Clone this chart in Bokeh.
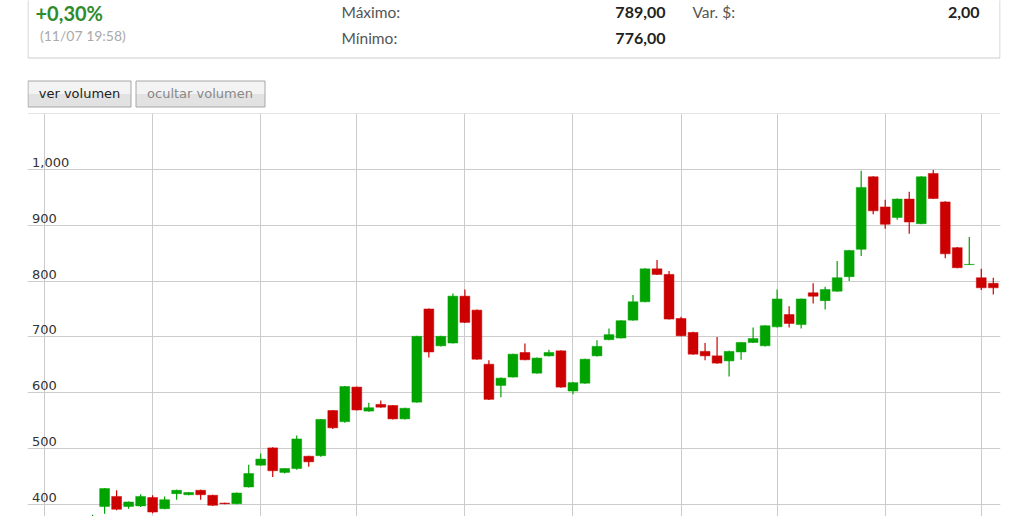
from bokeh.plotting import figure
from bokeh.models import Range1d, Grid, FixedTicker, ColumnDataSource
from bokeh.layouts import column
from bokeh.core.properties import value
from bokeh.embed import file_html
from bokeh.resources import INLINE

# ---------------- data ----------------
week = list(range(4, 80))
open_ = [372, 396, 414, 396, 397, 412, 392, 419, 417, 425, 416, 402, 401, 431, 470, 501, 457, 464,
         486, 487, 568, 548, 610, 567, 579, 577, 553, 583, 750, 684, 689, 773, 748, 651, 613, 628,
         672, 635, 666, 675, 603, 617, 666, 695, 698, 730, 763, 822, 812, 733, 708, 674, 666, 657,
         673, 690, 684, 718, 740, 722, 779, 765, 782, 808, 857, 987, 933, 914, 947, 903, 993, 942,
         860, 829.5, 806, 796]
high = [381, 429, 425, 405, 418, 416, 414, 426, 422, 426, 417, 402.5, 421, 471, 491, 502, 465, 523,
        487, 553, 569, 612, 611, 582, 586, 578, 573, 702, 751, 702, 778, 785, 749, 658, 627, 670,
        688, 663, 677, 676, 619, 661, 694, 715, 730, 775, 823, 838, 818, 736, 709, 689, 700, 675,
        691, 717, 721, 785, 755, 769, 796, 790, 836, 856, 998, 988, 946, 948, 960, 988, 999, 943,
        861, 879, 822, 806]
low = [365, 383, 389, 392, 395, 384, 391, 408, 416, 408, 397, 400, 400, 430, 469, 449, 455, 462,
       467, 485, 535, 546, 568, 566, 573, 552, 552, 582, 663, 683, 688, 725, 659, 587, 592, 627,
       658, 634, 665, 609, 597, 616, 665, 694, 697, 729, 762, 811, 731, 701, 668, 658, 652, 629,
       659, 689, 683, 717, 717, 715, 760, 749, 781, 800, 845, 920, 894, 910, 885, 902, 947, 841,
       823, 829, 784, 776]
close = [378, 428, 391, 404, 414, 386, 408, 425, 421, 417, 398, 401, 420, 455, 481, 460, 464, 517,
         476, 552, 537, 611, 569, 573, 574, 553, 572, 701, 673, 701, 773, 726, 660, 588, 626, 669,
         659, 662, 672, 610, 618, 660, 683, 704, 729, 763, 822, 812, 732, 702, 669, 666, 653, 674,
         690, 697, 720, 768, 724, 768, 773, 785, 806, 855, 968, 926, 902, 947, 906, 987, 948, 849,
         824, 830, 788, 788]

month_ticks = [0, 9, 18, 26, 35, 44, 53, 61, 70, 78]
price_ticks = [400, 500, 600, 700, 800, 900, 1000, 1100]
price_labels = ["400", "500", "600", "700", "800", "900", "1,000"]

change_pct = "+0,30%"
timestamp = "(11/07 19:58)"
stat_labels = ["Máximo:", "Mínimo:", "Var. $:"]
stat_values = ["789,00", "776,00", "2,00"]
button_labels = ["ver volumen", "ocultar volumen"]

UP = "#00a300"
DOWN = "#cc0000"

# ---------------- header (page coordinates) ----------------
top = figure(width=1024, height=113, x_range=Range1d(27, 1000), y_range=Range1d(113, 0),
             x_axis_type=None, y_axis_type=None, min_border_left=27, min_border_right=24,
             min_border_top=0, min_border_bottom=0, toolbar_location=None,
             output_backend="svg", outline_line_color=None)
top.background_fill_color = "white"
top.border_fill_color = "white"

# info panel
top.quad(left=[27.5], right=[999.5], top=[-20], bottom=[57.5],
         fill_color="white", line_color="#cccccc", line_width=1)

top.text(x=[35], y=[12.5], text=[change_pct], text_font=value("Lato"), text_font_size="20px",
         text_font_style="bold", text_color="#2e8b2e", text_baseline="alphabetic",
         text_align="left")
top.text(x=[39.5], y=[34.5], text=[timestamp], text_font=value("Lato"), text_font_size="14px",
         text_color="#aaaaaa", text_baseline="alphabetic", text_align="left")

top.text(x=[341, 341, 692], y=[11.5, 37.5, 11.5], text=stat_labels, text_font=value("Lato"),
         text_font_size="15.5px", text_color="#555555", text_baseline="alphabetic",
         text_align="left")
top.text(x=[665, 665, 979], y=[11.5, 37.5, 11.5], text=stat_values, text_font=value("Lato"),
         text_font_size="16px", text_font_style="bold", text_color="#222222",
         text_baseline="alphabetic", text_align="right")

# buttons
top.quad(left=[27.5, 135.5], right=[130.5, 264.5], top=[80.5, 80.5], bottom=[93.5, 93.5],
         fill_color="#f3f3f3", line_color=None)
top.quad(left=[27.5, 135.5], right=[130.5, 264.5], top=[93.5, 93.5], bottom=[106.5, 106.5],
         fill_color="#e2e2e2", line_color=None)
top.quad(left=[27.5, 135.5], right=[130.5, 264.5], top=[80.5, 80.5], bottom=[106.5, 106.5],
         fill_color=None, line_color="#a6a6a6", line_width=1)
top.text(x=[79, 199.5], y=[92.5, 92.5], text=button_labels, text_font=value("DejaVu Sans"),
         text_font_size="13px", text_color=["#222222", "#888888"], text_baseline="alphabetic",
         text_align="center")

# ---------------- candlestick chart ----------------
x_start, x_end = -1.42, 79.6
chart = figure(width=1024, height=403, x_range=Range1d(x_start, x_end),
               y_range=Range1d(378, 1100.5), x_axis_type=None, y_axis_type=None,
               min_border_left=27, min_border_right=24, min_border_top=0, min_border_bottom=0,
               toolbar_location=None, output_backend="svg", outline_line_color=None)
chart.background_fill_color = "white"
chart.border_fill_color = "white"

chart.add_layout(Grid(dimension=0, ticker=FixedTicker(ticks=month_ticks),
                      grid_line_color="#cccccc", grid_line_width=1))
chart.add_layout(Grid(dimension=1, ticker=FixedTicker(ticks=price_ticks),
                      grid_line_color="#cccccc", grid_line_width=1))

colors = [UP if c >= o else DOWN for o, c in zip(open_, close)]
src = ColumnDataSource(dict(
    x=week,
    top=[max(o, c) for o, c in zip(open_, close)],
    bottom=[min(o, c) for o, c in zip(open_, close)],
    high=high, low=low, color=colors,
))
chart.segment(x0="x", y0="low", x1="x", y1="high", line_color="color", line_width=1.2, source=src)
chart.vbar(x="x", width=0.82, top="top", bottom="bottom", fill_color="color",
           line_color="color", line_alpha=0.5, line_width=1, source=src)

chart.text(x=[x_start] * len(price_labels), y=price_ticks[:len(price_labels)], text=price_labels,
           x_offset=4.5, y_offset=-7, text_font=value("DejaVu Sans"), text_font_size="13px",
           text_color="#333333", text_baseline="alphabetic", text_align="left")

layout = column(top, chart, spacing=0)
open("out.html", "w").write(file_html(layout, INLINE))
